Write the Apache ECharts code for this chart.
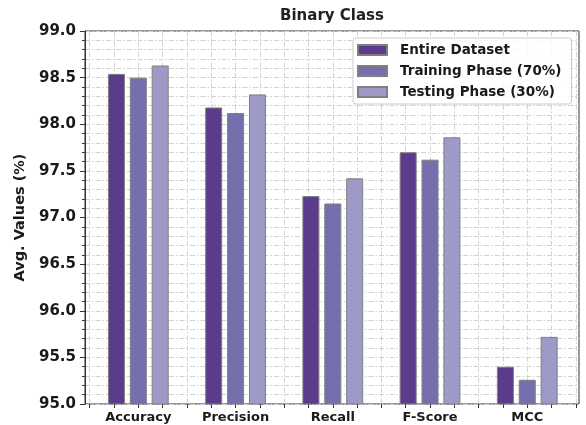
<!DOCTYPE html>
<html>
<head>
<meta charset="utf-8">
<script src="https://cdn.jsdelivr.net/npm/echarts@6/dist/echarts.min.js"></script>
<style>
  html, body { margin: 0; padding: 0; background: #ffffff; }
  #chart { width: 586px; height: 425px; }
</style>
</head>
<body>
<div id="chart"></div>
<script>
// Metrics on the x axis
const categories = ['Accuracy', 'Precision', 'Recall', 'F-Score', 'MCC'];
const seriesNames = ['Entire Dataset', 'Training Phase (70%)', 'Testing Phase (30%)'];

// Average values (%) per metric
const entireDataset = [98.54, 98.18, 97.23, 97.70, 95.40];
const trainingPhase = [98.50, 98.12, 97.15, 97.62, 95.26];
const testingPhase  = [98.63, 98.32, 97.42, 97.86, 95.72];

// Value axis range and step
const yMin = 95.0;
const yMax = 99.0;
const yStep = 0.5;

const FONT = 'DejaVu Sans';
const colors = ['#5b3b8c', '#756fad', '#9e9ac8'];
const gridLine = { color: '#d2d2d2', width: 1, type: [5, 2, 1.5, 2] };

// bar centre offsets within a group, in category units
const groupOffsets = [-0.225, 0, 0.225];

const seriesValues = [entireDataset, trainingPhase, testingPhase];

const chart = echarts.init(document.getElementById('chart'), null, { renderer: 'canvas' });

const series = seriesValues.map((vals, s) => ({
  name: seriesNames[s],
  type: 'bar',
  xAxisIndex: 1,
  yAxisIndex: 1,
  barWidth: 17,
  barGap: '-100%',
  z: 5,
  itemStyle: { color: colors[s], borderColor: '#7f7f7f', borderWidth: 1 },
  data: vals.map((v, i) => [i + groupOffsets[s], v])
}));

chart.setOption({
  animation: false,
  backgroundColor: '#ffffff',
  title: {
    text: 'Binary Class',
    left: 332,
    top: 9,
    padding: 0,
    textAlign: 'center',
    textStyle: { fontFamily: FONT, fontSize: 15, fontWeight: 'bold', color: '#222' }
  },
  legend: {
    orient: 'vertical',
    left: 353,
    top: 38,
    padding: [5, 10, 5, 4],
    icon: 'rect',
    itemWidth: 29,
    itemHeight: 10,
    itemGap: 7,
    backgroundColor: 'rgba(255,255,255,0.85)',
    borderColor: '#cccccc',
    borderWidth: 1,
    borderRadius: 3,
    z: 10,
    textStyle: { fontFamily: FONT, fontSize: 13.5, fontWeight: 'bold', color: '#1a1a1a', lineHeight: 14, padding: [0, 0, 0, 8] },
    data: seriesNames
  },
  grid: [
    // frame of the plotting area
    { left: 85, right: 7, top: 31, bottom: 21, show: true, borderColor: '#333', borderWidth: 1, backgroundColor: 'transparent' },
    // data area, spanning category units -0.5 .. 4.5
    { left: 89.7, right: 10.1, top: 31, bottom: 21 }
  ],
  xAxis: [
    { gridIndex: 0, type: 'value', min: 0, max: 1, show: false },
    {
      gridIndex: 1,
      type: 'value',
      min: -0.5,
      max: categories.length - 0.5,
      interval: 0.25,
      axisLine: { show: false },
      axisTick: { show: true, inside: false, length: 4, lineStyle: { color: '#333' } },
      axisLabel: {
        margin: 7,
        fontFamily: FONT, fontSize: 13, fontWeight: 'bold', color: '#1a1a1a',
        formatter: v => {
          const i = Math.round(v);
          return Math.abs(v - i) < 1e-6 && categories[i] ? categories[i] : '';
        }
      },
      splitLine: { show: true, lineStyle: gridLine }
    }
  ],
  yAxis: [
    {
      gridIndex: 0,
      type: 'value',
      min: yMin,
      max: yMax,
      interval: yStep,
      name: 'Avg. Values (%)',
      nameLocation: 'middle',
      nameGap: 50,
      nameTextStyle: { fontFamily: FONT, fontSize: 14.5, fontWeight: 'bold', color: '#1a1a1a' },
      axisLine: { show: true, lineStyle: { color: '#333' } },
      axisTick: { show: true, inside: false, length: 5, lineStyle: { color: '#333' } },
      minorTick: { show: true, splitNumber: 5, length: 3, lineStyle: { color: '#333' } },
      axisLabel: {
        margin: 9,
        fontFamily: FONT, fontSize: 15, fontWeight: 'bold', color: '#1a1a1a',
        formatter: v => v.toFixed(1)
      },
      splitLine: { show: true, lineStyle: gridLine },
      minorSplitLine: { show: true, lineStyle: gridLine }
    },
    { gridIndex: 1, type: 'value', min: yMin, max: yMax, show: false }
  ],
  series
});
</script>
</body>
</html>
